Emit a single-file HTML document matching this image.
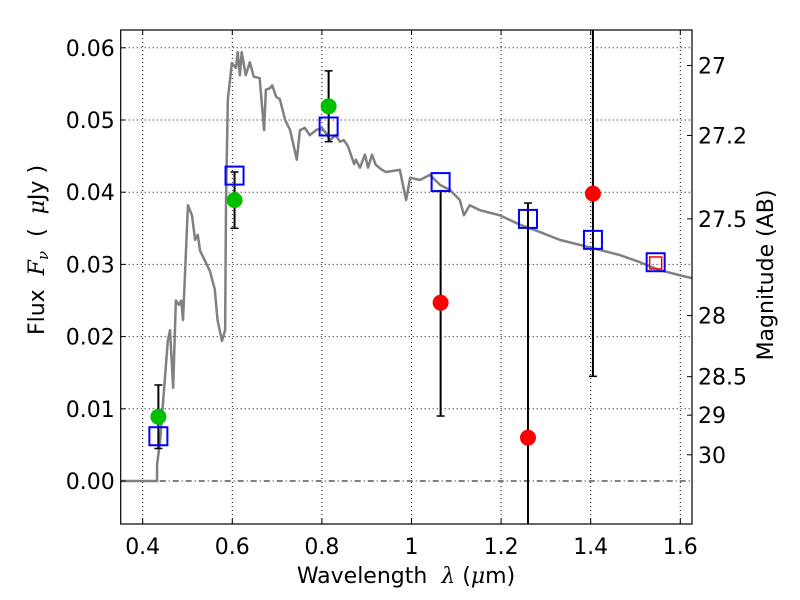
<!DOCTYPE html>
<html><head><meta charset="utf-8"><style>
body{margin:0;background:#fff}
svg{display:block;font-family:"DejaVu Sans","Liberation Sans",sans-serif}
</style></head><body>
<svg id="chart" width="800" height="600" viewBox="0 0 800 600">
<g id="grid"></g>
<g id="plot"></g>
<g id="axes"></g>
<text x="406" y="583" font-size="22" text-anchor="middle">Wavelength&#160;&#160;<tspan font-family="DejaVu Serif,serif" font-style="italic">λ</tspan> (<tspan font-family="DejaVu Serif,serif" font-style="italic">μ</tspan>m)</text>
<text transform="translate(44,250) rotate(-90)" font-size="22" text-anchor="middle">Flux&#160;&#160;<tspan font-family="DejaVu Serif,serif" font-style="italic">F</tspan><tspan font-family="DejaVu Serif,serif" font-style="italic" font-size="15" dy="4">ν</tspan><tspan dy="-4">&#160;&#160;(&#160;&#160;</tspan><tspan font-family="DejaVu Serif,serif" font-style="italic">μ</tspan>Jy )</text>
<text transform="translate(773,275) rotate(-90)" font-size="22" text-anchor="middle">Magnitude (AB)</text>
</svg>
<script>
const sedLam=[0.349,0.427,0.432,0.432,0.439,0.456,0.461,0.468,0.474,0.481,0.486,0.490,0.501,0.510,0.517,0.523,0.528,0.539,0.550,0.561,0.567,0.577,0.584,0.586,0.590,0.599,0.608,0.612,0.617,0.621,0.630,0.639,0.648,0.661,0.671,0.675,0.684,0.689,0.698,0.706,0.718,0.729,0.744,0.751,0.762,0.773,0.787,0.800,0.809,0.818,0.831,0.840,0.849,0.858,0.872,0.876,0.885,0.896,0.903,0.912,0.920,0.934,0.943,0.974,0.988,0.997,1.019,1.041,1.064,1.086,1.108,1.117,1.130,1.153,1.197,1.242,1.286,1.331,1.376,1.420,1.465,1.510,1.554,1.599,1.626];
const sedFlux=[0,0,0,0.0022,0.0057,0.0194,0.0209,0.0129,0.0250,0.0244,0.0250,0.0223,0.0382,0.0368,0.0334,0.0341,0.0319,0.0305,0.0291,0.0265,0.0223,0.0194,0.0209,0.0389,0.0528,0.0579,0.0572,0.0594,0.0562,0.0594,0.0562,0.0580,0.0560,0.0558,0.0486,0.0542,0.0544,0.0548,0.0532,0.0529,0.0500,0.0486,0.0445,0.0486,0.0489,0.0479,0.0486,0.0489,0.0482,0.0472,0.0479,0.0470,0.0472,0.0464,0.0439,0.0445,0.0434,0.0452,0.0434,0.0452,0.0438,0.0431,0.0428,0.0431,0.0389,0.0420,0.0417,0.0424,0.0410,0.0403,0.0389,0.0368,0.0382,0.0375,0.0368,0.0355,0.0345,0.0334,0.0327,0.0320,0.0313,0.0303,0.0292,0.0285,0.0281];
const obsLam=[0.435,0.605,0.815];
const obsFlux=[0.0089,0.0389,0.0519];
const obsLo=[0.0045,0.0350,0.0470];
const obsHi=[0.0133,0.0428,0.0568];
const limLam=[1.065,1.26,1.405];
const limFlux=[0.0247,0.0060,0.0398];
const limLo=[0.0090,-0.0100,0.0145];
const limHi=[0.0402,0.0385,0.0700];
const modLam=[0.435,0.605,0.815,1.065,1.26,1.405,1.545];
const modFlux=[0.0062,0.0423,0.0491,0.0414,0.0363,0.0334,0.0303];
const redSqLam=[1.545];
const redSqFlux=[0.0302];
const xTicks=[0.4,0.6,0.8,1.0,1.2,1.4,1.6];
const xTickLabels=["0.4","0.6","0.8","1","1.2","1.4","1.6"];
const yTicks=[0,0.01,0.02,0.03,0.04,0.05,0.06];
const yTickLabels=["0.00","0.01","0.02","0.03","0.04","0.05","0.06"];
const magTicks=[27,27.2,27.5,28,28.5,29,30];
const magTickLabels=["27","27.2","27.5","28","28.5","29","30"];

const L=120.7,R=692,T=30,B=524;
const X=v=>142.7+(v-0.4)*448;
const Y=f=>481-f*7220;
const NS="http://www.w3.org/2000/svg";
function mk(tag,attrs,parent){const e=document.createElementNS(NS,tag);for(const k in attrs)e.setAttribute(k,attrs[k]);parent.appendChild(e);return e;}
const grid=document.getElementById('grid'),plot=document.getElementById('plot'),axes=document.getElementById('axes');
const svg=document.getElementById('chart');
const defs=mk('defs',{},svg);const cp=mk('clipPath',{id:'clip'},defs);mk('rect',{x:L,y:T,width:R-L,height:B-T},cp);
plot.setAttribute('clip-path','url(#clip)');

xTicks.forEach((v,i)=>{
 const g=mk('line',{x1:X(v),x2:X(v),y1:T,y2:B,stroke:'#000','stroke-width':1,'stroke-dasharray':'1,3'},grid);
 
 mk('line',{x1:X(v),x2:X(v),y1:B,y2:B-5,stroke:'#000'},axes);
 mk('line',{x1:X(v),x2:X(v),y1:T,y2:T+5,stroke:'#000'},axes);
 const t=mk('text',{x:X(v),y:B+30,'font-size':22,'text-anchor':'middle'},axes);t.textContent=xTickLabels[i];
 
});
yTicks.forEach((v,i)=>{
 const g=mk('line',{x1:L,x2:R,y1:Y(v),y2:Y(v),stroke:'#000','stroke-width':1,'stroke-dasharray':v===0?'6,3,1,3':'1,3'},grid);
 
 mk('line',{x1:L,x2:L+5,y1:Y(v),y2:Y(v),stroke:'#000'},axes);
 const t=mk('text',{x:L-6,y:Y(v)+8,'font-size':22,'text-anchor':'end'},axes);t.textContent=yTickLabels[i];
 
});
magTicks.forEach((m,i)=>{
 const y=Y(Math.pow(10,(23.9-m)/2.5));
 mk('line',{x1:R,x2:R-5,y1:y,y2:y,stroke:'#000'},axes);
 const t=mk('text',{x:R+6,y:y+8,'font-size':22},axes);t.textContent=magTickLabels[i];
 
});
const frame=mk('rect',{x:L,y:T,width:R-L,height:B-T,fill:'none',stroke:'#000','stroke-width':1.2},axes);


const line=mk('polyline',{points:sedLam.map((l,i)=>X(l)+','+Y(sedFlux[i])).join(' '),fill:'none',stroke:'#808080','stroke-width':2.5,'stroke-linejoin':'round'},plot);


function errbar(l,lo,hi){
 const x=X(l);
 mk('line',{x1:x,x2:x,y1:Y(lo),y2:Y(hi),stroke:'#000','stroke-width':2},plot);
 mk('line',{x1:x-4,x2:x+4,y1:Y(lo),y2:Y(lo),stroke:'#000','stroke-width':1.5},plot);
 mk('line',{x1:x-4,x2:x+4,y1:Y(hi),y2:Y(hi),stroke:'#000','stroke-width':1.5},plot);
}
obsLam.forEach((l,i)=>errbar(l,obsLo[i],obsHi[i]));
limLam.forEach((l,i)=>errbar(l,limLo[i],limHi[i]));
obsLam.forEach((l,i)=>{const c=mk('circle',{cx:X(l),cy:Y(obsFlux[i]),r:8,fill:'#00bf00'},plot);
 });
limLam.forEach((l,i)=>{const c=mk('circle',{cx:X(l),cy:Y(limFlux[i]),r:8,fill:'#ff0000'},plot);
 });
modLam.forEach((l,i)=>{const r=mk('rect',{x:X(l)-9,y:Y(modFlux[i])-9,width:18,height:18,fill:'none',stroke:'#0000ff','stroke-width':2},plot);
 });
redSqLam.forEach((l,i)=>{const r=mk('rect',{x:X(l)-6,y:Y(redSqFlux[i])-6,width:12,height:12,fill:'none',stroke:'#ff0000','stroke-width':1.5},plot);
 });
</script>
</body></html>
